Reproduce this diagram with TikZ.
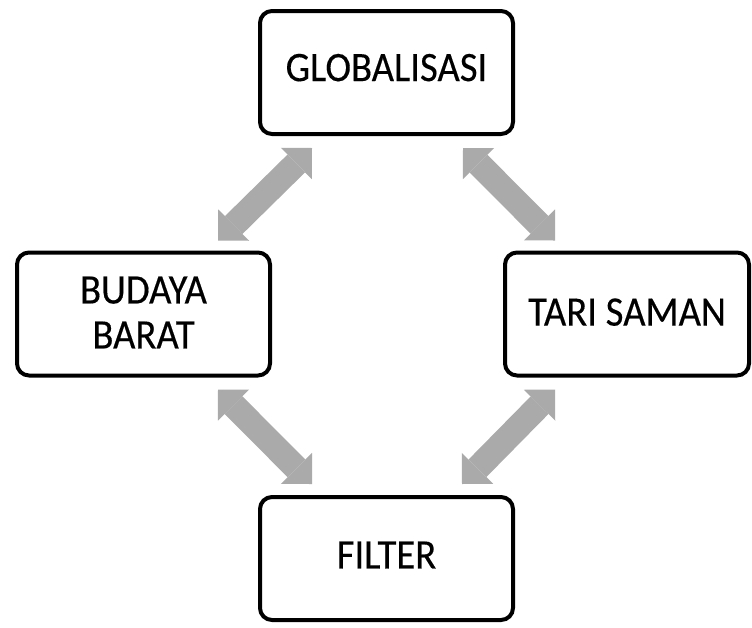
\documentclass[tikz,border=0pt]{standalone}
\usepackage{fontspec}
\setmainfont{Carlito}[FakeStretch=0.92,FakeBold=0.3]
\usetikzlibrary{arrows.meta,calc}
\definecolor{arrowgray}{RGB}{170,170,170}
\begin{document}
\begin{tikzpicture}[x=1pt,y=-1pt,
  box/.style={draw=black, line width=4pt, rounded corners=12pt, minimum height=123pt,
    align=center, font=\fontsize{42}{45}\selectfont, inner sep=0pt, fill=white},
  blockarrow/.style={draw=arrowgray, line width=25pt,
    {Triangle[width=44pt,length=22pt,line width=0pt]}-{Triangle[width=44pt,length=22pt,line width=0pt]}}]
\useasboundingbox (0,0) rectangle (752,627);
\fill[white] (0,0) rectangle (752,627);
\node[box, minimum width=253pt, text depth=10pt] (glob) at (386.5,72.5) {GLOBALISASI};
\node[box, minimum width=253pt, text depth=3pt] (bud) at (143.5,314) {BUDAYA\\BARAT};
\node[box, minimum width=244pt, text depth=4pt] (tari) at (627,314) {TARI SAMAN};
\node[box, minimum width=253pt, text depth=7pt] (fil) at (386.5,558.5) {FILTER};
\draw[blockarrow] ($(glob.south west)+(54,12)$) -- ($(bud.north east)+(-54,-10)$);
\draw[blockarrow] ($(glob.south east)+(-52,12)$) -- ($(tari.north west)+(52,-10)$);
\draw[blockarrow] ($(bud.south east)+(-54,12)$) -- ($(fil.north west)+(54,-11)$);
\draw[blockarrow] ($(tari.south west)+(52,12)$) -- ($(fil.north east)+(-53,-11)$);
\end{tikzpicture}
\end{document}
